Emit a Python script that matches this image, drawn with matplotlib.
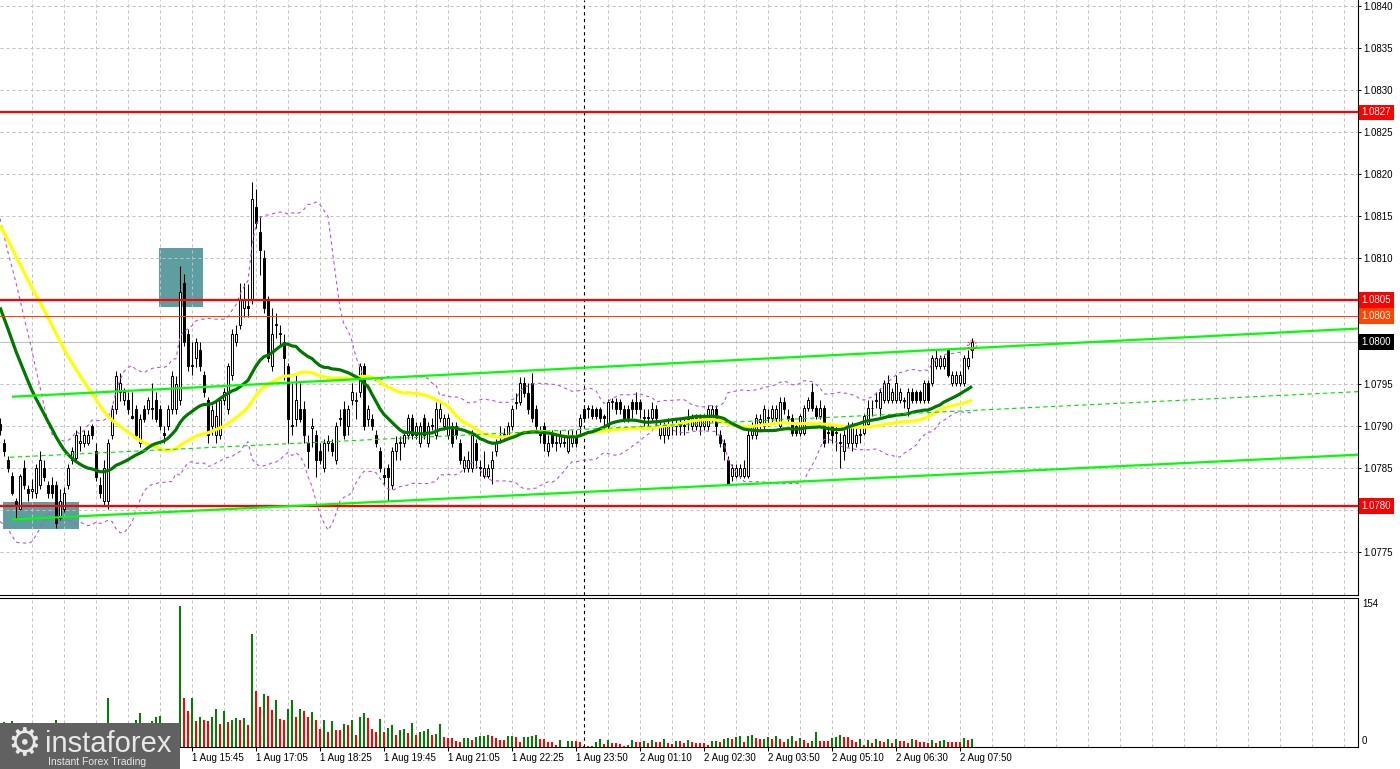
import numpy as np
import pandas as pd
import matplotlib
matplotlib.use("Agg")
import matplotlib.pyplot as plt
from matplotlib.patches import Rectangle, Ellipse
from matplotlib.transforms import blended_transform_factory

# ---------------- data (prices in pips above 1.0770, 5-minute bars) ----------------
BASE = 1.0770
PIP = 0.0001

open_pips = [
    20.3, 18.0, 16.0, 14.1, 11.1, 10.1, 15.0, 12.5, 12.3, 12.0,
    13.0, 15.0, 13.0, 13.0, 13.0, 9.1, 10.1, 13.0, 16.0, 16.2,
    18.0, 18.0, 18.0, 20.0, 17.0, 13.0, 11.1, 11.1, 19.0, 22.0,
    24.0, 23.1, 23.1, 21.2, 22.0, 18.0, 22.0, 22.0, 22.2, 23.1,
    22.0, 19.2, 20.0, 22.0, 22.0, 23.1, 37.0, 31.0, 27.3, 28.1,
    29.1, 26.1, 23.1, 20.0, 19.0, 19.0, 23.1, 22.0, 26.1, 30.0,
    32.0, 34.0, 34.3, 35.0, 46.1, 43.1, 40.0, 35.0, 27.1, 32.0,
    31.0, 30.0, 27.1, 20.1, 20.9, 22.0, 22.0, 18.0, 19.8, 19.0,
    17.0, 15.0, 18.0, 18.0, 16.0, 20.9, 22.0, 20.0, 23.1, 23.0,
    24.0, 27.1, 20.9, 20.9, 19.0, 17.0, 14.2, 15.0, 13.0, 17.0,
    18.0, 18.0, 19.0, 21.0, 19.0, 18.0, 21.0, 18.0, 20.0, 19.0,
    21.0, 20.0, 19.0, 20.0, 20.0, 18.0, 15.0, 15.0, 15.0, 18.0,
    15.1, 14.1, 14.1, 15.0, 17.0, 18.9, 19.0, 19.0, 20.0, 22.8,
    22.9, 25.1, 23.9, 25.1, 22.0, 19.1, 20.0, 17.0, 19.0, 18.0,
    18.0, 18.1, 17.0, 18.0, 19.0, 20.0, 22.0, 22.0, 22.0, 22.0,
    22.0, 21.2, 20.0, 22.9, 22.9, 22.9, 22.0, 22.0, 22.9, 22.9,
    22.9, 21.0, 21.1, 21.0, 22.0, 19.0, 19.0, 19.0, 20.0, 20.1,
    20.0, 20.1, 20.9, 20.0, 20.0, 20.0, 20.0, 20.0, 21.0, 22.0,
    19.0, 18.0, 16.0, 14.1, 14.1, 14.1, 14.1, 14.1, 19.0, 19.0,
    20.5, 20.0, 21.0, 21.0, 21.0, 20.0, 22.9, 21.2, 21.0, 20.0,
    19.2, 19.2, 22.2, 24.1, 22.2, 21.2, 22.2, 19.3, 20.0, 19.2,
    18.1, 17.0, 18.0, 18.0, 18.0, 19.0, 19.2, 20.2, 22.1, 23.0,
    22.2, 23.1, 23.1, 23.1, 23.1, 23.1, 23.0, 22.2, 24.1, 24.1,
    24.1, 23.1, 25.1, 25.1, 27.1, 27.1, 27.1, 29.1, 25.1, 25.1,
    25.1, 25.1, 27.1, 29.1,
]
close_pips = [
    19.5, 17.0, 15.0, 12.1, 10.8, 14.1, 13.0, 12.1, 12.5, 15.0,
    16.0, 14.0, 12.1, 12.1, 8.5, 11.1, 12.1, 15.0, 17.0, 19.0,
    18.2, 19.0, 19.0, 19.0, 14.0, 12.1, 15.0, 18.0, 22.0, 26.0,
    25.1, 24.0, 22.0, 21.0, 19.0, 20.9, 20.9, 23.1, 22.0, 20.9,
    20.0, 19.0, 22.0, 26.0, 25.0, 36.0, 30.0, 27.1, 27.1, 30.0,
    27.1, 24.1, 19.0, 21.9, 21.2, 23.1, 24.0, 27.1, 31.0, 31.0,
    35.0, 35.0, 34.0, 47.0, 44.1, 41.0, 34.1, 28.1, 31.0, 32.1,
    31.1, 28.1, 20.9, 20.0, 23.1, 20.9, 19.0, 17.0, 20.0, 16.0,
    16.0, 18.0, 18.2, 17.0, 20.0, 21.0, 19.0, 22.0, 24.0, 23.1,
    27.1, 20.0, 22.0, 20.0, 18.0, 15.0, 14.0, 14.0, 17.0, 18.0,
    18.1, 19.0, 21.0, 19.0, 20.0, 20.0, 19.0, 20.0, 20.1, 22.0,
    22.0, 21.0, 21.0, 18.0, 19.0, 16.0, 16.0, 16.0, 19.0, 16.0,
    15.0, 15.0, 15.0, 16.0, 18.0, 19.0, 19.1, 20.0, 22.0, 22.9,
    25.1, 23.9, 22.0, 21.0, 20.0, 19.0, 18.0, 18.0, 18.0, 18.1,
    19.0, 18.0, 19.0, 19.0, 18.0, 21.0, 21.0, 22.1, 21.2, 21.2,
    21.0, 21.0, 22.9, 23.0, 22.0, 22.0, 21.0, 21.0, 22.0, 22.0,
    22.0, 21.1, 21.0, 22.0, 21.0, 20.0, 20.0, 20.0, 20.1, 20.0,
    20.1, 20.0, 21.0, 21.0, 21.0, 21.0, 21.0, 22.0, 22.0, 20.0,
    18.0, 17.0, 13.1, 15.0, 15.0, 15.0, 15.0, 19.0, 20.0, 21.0,
    20.8, 22.0, 21.1, 22.0, 22.0, 22.9, 22.0, 21.0, 19.2, 19.2,
    21.2, 22.2, 23.1, 22.2, 21.2, 22.2, 18.0, 19.2, 19.0, 19.3,
    18.0, 19.0, 20.0, 20.0, 19.0, 19.1, 21.2, 22.2, 22.2, 23.1,
    24.1, 25.1, 25.1, 24.1, 25.1, 24.1, 23.1, 24.1, 23.1, 23.1,
    23.1, 25.1, 23.1, 28.1, 28.1, 28.1, 28.1, 26.1, 26.1, 26.1,
    26.1, 28.1, 28.1, 30.0,
]
high_pips = [
    21.0, 18.5, 16.5, 14.5, 11.5, 14.3, 16.0, 13.0, 13.7, 15.5,
    17.0, 16.0, 13.5, 14.0, 13.5, 12.5, 12.8, 15.5, 17.5, 19.5,
    20.0, 19.5, 19.5, 20.3, 18.0, 14.0, 16.0, 18.5, 22.5, 26.5,
    26.3, 24.5, 24.0, 24.0, 22.5, 21.5, 22.5, 23.5, 25.1, 24.0,
    22.5, 20.0, 22.5, 26.5, 26.0, 39.1, 38.1, 31.5, 30.0, 30.5,
    30.0, 26.5, 23.5, 22.5, 23.0, 23.5, 24.5, 27.5, 31.5, 32.0,
    37.0, 37.0, 36.9, 49.0, 48.2, 45.0, 41.0, 35.5, 34.0, 33.5,
    32.0, 31.0, 27.5, 25.1, 26.1, 25.1, 23.0, 19.0, 21.0, 19.5,
    18.0, 18.5, 19.0, 18.5, 20.5, 22.0, 23.0, 22.5, 25.1, 24.0,
    27.5, 27.5, 22.5, 21.5, 19.5, 17.5, 15.0, 15.5, 17.5, 18.8,
    18.8, 19.5, 21.5, 21.5, 20.5, 20.5, 21.5, 20.5, 21.0, 22.9,
    22.9, 21.5, 21.5, 20.5, 20.5, 18.5, 16.5, 17.0, 19.5, 18.5,
    16.0, 17.0, 15.5, 17.0, 18.5, 20.0, 19.8, 20.5, 22.5, 23.9,
    25.8, 25.8, 25.1, 26.3, 22.5, 20.0, 20.5, 19.0, 19.5, 19.0,
    19.5, 18.8, 19.5, 19.5, 19.5, 21.5, 22.5, 22.5, 22.5, 22.3,
    22.3, 21.5, 23.2, 23.3, 23.3, 23.2, 22.5, 22.5, 23.2, 24.1,
    23.2, 22.0, 22.0, 22.9, 22.5, 20.5, 20.5, 21.0, 21.0, 21.0,
    21.0, 21.0, 22.0, 21.5, 21.5, 21.5, 21.5, 22.5, 22.5, 22.5,
    19.5, 18.5, 16.5, 15.5, 15.5, 15.5, 16.0, 19.5, 20.5, 21.5,
    21.5, 22.5, 22.0, 22.5, 22.5, 23.5, 23.5, 22.0, 21.5, 20.5,
    21.5, 22.5, 23.5, 25.1, 22.5, 23.1, 22.5, 20.0, 20.3, 20.0,
    19.2, 19.5, 20.5, 20.5, 20.0, 20.0, 21.5, 23.1, 23.1, 24.1,
    24.5, 25.5, 26.1, 24.5, 26.1, 24.5, 23.5, 24.5, 24.5, 24.3,
    24.3, 25.5, 25.5, 28.5, 29.1, 28.5, 28.5, 29.1, 26.5, 26.5,
    26.5, 28.5, 29.1, 30.5,
]
low_pips = [
    19.0, 16.5, 14.5, 11.8, 8.9, 10.0, 12.5, 11.1, 11.5, 11.5,
    12.5, 13.5, 11.5, 11.5, 7.9, 8.8, 9.8, 12.5, 15.5, 16.0,
    17.0, 17.5, 17.8, 18.5, 13.5, 11.5, 10.5, 10.2, 18.5, 21.5,
    23.0, 22.5, 21.5, 20.8, 18.5, 17.5, 20.5, 21.5, 20.9, 20.5,
    19.5, 18.0, 19.5, 21.5, 21.5, 22.5, 29.5, 26.5, 26.1, 27.0,
    26.5, 23.5, 18.0, 19.0, 18.0, 18.5, 22.5, 21.5, 25.5, 29.5,
    31.5, 33.0, 33.0, 34.5, 43.5, 38.0, 33.5, 27.6, 26.5, 30.5,
    29.5, 25.5, 18.0, 19.0, 20.0, 20.5, 18.0, 15.0, 17.5, 14.0,
    15.5, 14.5, 17.0, 16.5, 15.5, 20.0, 18.5, 19.0, 22.5, 20.9,
    23.5, 19.5, 20.0, 19.5, 17.5, 14.5, 13.0, 11.1, 12.5, 16.0,
    16.0, 17.5, 18.5, 18.5, 18.5, 17.5, 18.5, 17.5, 19.5, 18.5,
    20.5, 19.5, 18.5, 17.5, 18.5, 15.5, 14.5, 14.5, 14.5, 15.0,
    14.1, 13.8, 13.8, 13.1, 16.5, 18.0, 18.5, 18.5, 19.5, 22.0,
    22.5, 23.5, 21.5, 20.5, 19.5, 18.0, 17.0, 16.5, 17.5, 17.0,
    17.5, 17.5, 16.8, 17.5, 17.5, 19.0, 20.5, 21.0, 20.8, 20.8,
    20.5, 19.5, 19.5, 22.0, 21.5, 21.5, 20.5, 20.5, 21.0, 21.5,
    21.0, 20.0, 20.0, 20.5, 20.0, 18.5, 18.0, 18.5, 19.0, 19.0,
    19.0, 19.0, 19.5, 19.5, 19.5, 19.0, 19.5, 19.5, 20.5, 19.0,
    17.5, 16.0, 13.0, 13.5, 13.8, 13.8, 13.8, 13.8, 18.5, 18.5,
    19.5, 19.5, 20.0, 20.5, 20.5, 19.5, 21.5, 20.5, 18.8, 18.8,
    18.8, 19.0, 21.8, 21.8, 20.8, 20.8, 17.5, 18.0, 18.0, 17.0,
    15.0, 16.0, 17.5, 17.0, 17.5, 18.0, 19.0, 20.0, 21.2, 22.2,
    21.2, 22.8, 22.8, 22.8, 22.8, 22.8, 22.2, 21.2, 22.8, 22.8,
    22.8, 22.8, 22.8, 24.8, 26.8, 26.8, 26.8, 25.8, 24.8, 24.8,
    24.8, 24.8, 26.8, 28.1,
]
volume = [
    20, 27, 18, 28, 26, 22, 20, 15, 18, 21,
    24, 17, 14, 19, 30, 22, 18, 20, 15, 21,
    17, 16, 19, 14, 22, 24, 20, 53, 25, 24,
    18, 16, 20, 22, 30, 37, 24, 20, 28, 33,
    33.5, 22, 18, 21, 24, 154, 54, 39, 53, 28,
    33, 29, 28, 33, 42, 25, 39, 27, 29, 32,
    29, 32, 24, 123, 61, 44, 58, 56, 40, 51,
    31, 29, 42, 51, 33, 41, 39, 33, 38, 30,
    20, 29, 16, 28, 19, 19, 25, 24, 30, 13,
    33, 37, 32, 20, 16, 31, 16, 21, 24, 13,
    19, 20, 15, 26, 13, 16, 17, 20, 13, 14,
    25, 11, 9.5, 9.5, 7, 6, 9.5, 9.8, 8, 11,
    11.5, 12, 13, 12, 9.5, 8,
    7.8, 11.7, 12.0, 10.6, 5.1, 10.6, 10.9, 11.7, 12.8, 8.4,
    8.4, 5.1, 5.1, 1.8, 7.3, 0.5, 6.2, 6.4, 6.2, 5.1,
    0.7, 0.7, 1.0, 5.1, 8.4, 2.9, 7.3, 4.0, 4.0, 2.9,
    0.7, 1.8, 7.3, 5.1, 5.1, 6.2, 4.0, 7.3, 5.1, 5.1,
    8.4, 4.0, 2.9, 6.2, 6.2, 4.0, 7.3, 5.1, 4.0, 4.0,
    4.0, 1.8, 6.2, 6.4, 5.1, 8.4, 9.5, 8.4, 10.6, 11.7,
    5.1, 11.7, 12.8, 9.5, 8.4, 8.7, 10.6, 8.4, 11.7, 8.4,
    5.1, 8.4, 11.7, 6.2, 9.5, 7.3, 4.0, 6.2, 16.0, 6.2,
    6.2, 6.2, 9.5, 10.6, 12.8, 10.6, 10.6, 7.3, 5.1, 8.4,
    1.8, 7.3, 4.0, 8.4, 6.2, 5.1, 8.4, 4.0, 8.4, 6.2,
    6.2, 4.0, 8.4, 7.3, 5.1, 5.1, 4.0, 7.3, 4.0, 6.2,
    7.3, 5.1, 5.1, 5.1, 5.1, 9.5, 7.3, 8.4,
]
# closes of the bars just before the visible window (only feed the indicators)
prior_close_pips = [
    59, 60, 60, 61, 60, 59, 60, 59, 58, 59, 58, 59, 58, 57, 58, 57, 58, 57, 56, 57,
    55, 54, 52, 51, 50, 48, 47, 46, 44, 43, 41, 40, 38, 37, 35, 34, 32, 31, 30, 28,
    27, 25, 22, 19, 17, 15, 14, 15, 14,
]

time_labels = ["1 Aug 15:45", "1 Aug 17:05", "1 Aug 18:25", "1 Aug 19:45", "1 Aug 21:05",
               "1 Aug 22:25", "1 Aug 23:50", "2 Aug 01:10", "2 Aug 02:30", "2 Aug 03:50",
               "2 Aug 05:10", "2 Aug 06:30", "2 Aug 07:50"]
time_label_bars = [48, 64, 80, 96, 112, 128, 144, 160, 176, 192, 208, 224, 240]
day_break_bar = 146

price_ticks = [1.0775, 1.0780, 1.0785, 1.0790, 1.0795, 1.0800, 1.0805,
               1.0810, 1.0815, 1.0820, 1.0825, 1.0830, 1.0835, 1.0840]
red_levels = [1.08273, 1.0805, 1.07805]
red_level_labels = ["1.0827", "1.0805", "1.0780"]
orange_level, orange_label = 1.08031, "1.0803"
bid_level, bid_label = 1.0800, "1.0800"

# channel trend lines: (start bar, start pips, end bar, end pips)
channel_upper = (3, 23.5, 339.5, 31.6)
channel_lower = (3, 8.9, 339.5, 16.6)
channel_mid = (2.5, 16.3, 339.5, 24.1)
# signal boxes: (left bar, right bar, low pips, high pips)
boxes = [(39.75, 50.75, 34.2, 41.2), (0.75, 19.75, 7.8, 11.0)]
vol_scale_label = 154

# ---------------- derived ----------------
def to_price(p):
    return BASE + np.asarray(p, dtype=float) * PIP

n = len(close_pips)
idx = np.arange(n)
o, c, h, l = (to_price(a) for a in (open_pips, close_pips, high_pips, low_pips))
full = pd.Series(np.r_[prior_close_pips, close_pips].astype(float))
k0 = len(prior_close_pips)
ma30 = to_price(full.rolling(30).mean().values[k0:])
ma50 = to_price(full.rolling(50).mean().values[k0:])
mid = full.rolling(20).mean()
sd = full.rolling(20).std(ddof=0)
bb_up = to_price((mid + 2 * sd).values[k0:])
bb_dn = to_price((mid - 2 * sd).values[k0:])

vol = np.asarray(volume, dtype=float)
vcol = ["#008000"] + ["#008000" if vol[i] > vol[i - 1] else "#ff0000" for i in range(1, n)]

# ---------------- figure ----------------
W, H = 1400.0, 769.0
plt.rcParams["font.family"] = ["Liberation Sans", "DejaVu Sans"]
fig = plt.figure(figsize=(W / 100, H / 100), dpi=100)
fig.patch.set_facecolor("white")
ax = fig.add_axes([0, (H - 595) / H, 1358 / W, 595 / H])
axv = fig.add_axes([0, (H - 747) / H, 1358 / W, (747 - 598) / H])

XMAX = 339.5
ax.set_xlim(0, XMAX)
ax.set_ylim(1.076992, 1.084067)
axv.set_xlim(0, XMAX)
axv.set_ylim(0, 162.8)

grid_kw = dict(color="#c0c0c0", lw=0.72, ls=(0, (3, 3)), zorder=0.5)
for xb in range(8, int(XMAX), 8):
    ax.axvline(xb, **grid_kw)
    axv.axvline(xb, **grid_kw)
for pt in price_ticks:
    ax.axhline(pt, **grid_kw)

for (b0, b1, p0, p1) in boxes:
    ax.add_patch(Rectangle((b0, to_price(p0)), b1 - b0, (p1 - p0) * PIP,
                           facecolor="#5f9ea0", edgecolor="none", zorder=0.3))

ax.axhline(bid_level, color="#c0c0c0", lw=0.8, zorder=1)
ax.axhline(orange_level, color="#ff4500", lw=0.75, zorder=8)
for lv in red_levels:
    ax.axhline(lv, color="#ff0000", lw=1.6, zorder=8)

# candles
body_low = np.minimum(o, c)
body_h = np.maximum(np.abs(c - o), 0.02 * PIP)
face = np.where(c > o, "white", "black")
ax.vlines(idx, l, h, colors="black", lw=0.75, zorder=5)
ax.bar(idx, body_h, bottom=body_low, width=0.55, color=list(face),
       edgecolor="black", linewidth=0.7, zorder=6)

# indicators
ax.plot(idx, bb_up, color="#b455d8", lw=0.8, ls=(0, (3, 3)), zorder=6.5)
ax.plot(idx, bb_dn, color="#b455d8", lw=0.8, ls=(0, (3, 3)), zorder=6.5)
ax.plot(idx, ma50, color="#ffff00", lw=2.3, zorder=7, solid_capstyle="butt")
ax.plot(idx, ma30, color="#007800", lw=2.3, zorder=7.1, solid_capstyle="butt")

for (b0, p0, b1, p1) in (channel_upper, channel_lower):
    ax.plot([b0, b1], to_price([p0, p1]), color="#00ff00", lw=1.6,
            zorder=8, solid_capstyle="butt")
b0, p0, b1, p1 = channel_mid
ax.plot([b0, b1], to_price([p0, p1]), color="#00e000", lw=0.8, ls=(0, (4, 3)), zorder=8)

ax.add_patch(Ellipse((n - 1, to_price(close_pips[-1] - 0.4)), 2.2, 1.1 * PIP,
                     fill=False, edgecolor="#ff2020", lw=0.8, ls=":", zorder=9))

for a in (ax, axv):
    a.axvline(day_break_bar, color="black", lw=0.8, ls=(0, (3, 3)), zorder=4)

# volumes
axv.bar(idx, vol, width=0.7, color=vcol, zorder=2)

# axes styling
for a in (ax, axv):
    a.set_facecolor("white")
    a.spines["left"].set_visible(False)
    for s in ("right", "bottom", "top"):
        a.spines[s].set_color("black")
        a.spines[s].set_linewidth(0.8)
ax.spines["top"].set_visible(False)

# tick labels hidden behind the price tags are left blank
covered = {"1.0805", "1.0800"}
ax.yaxis.tick_right()
ax.set_yticks(price_ticks)
ax.set_yticklabels(["" if f"{t:.4f}" in covered else f"{t:.4f}" for t in price_ticks])
ax.tick_params(axis="y", length=2.5, width=0.7, labelsize=7, pad=1.2, colors="black")
ax.set_xticks([])

axv.set_yticks([])
axv.set_xticks(time_label_bars)
axv.set_xticklabels(time_labels, ha="left", fontsize=7)
axv.tick_params(axis="x", length=3, width=0.7, pad=1.5)

fig.text(1362 / W, 1 - 604 / H, str(vol_scale_label), fontsize=7, va="center", ha="left")
fig.text(1362 / W, 1 - 741 / H, "0", fontsize=7, va="center", ha="left")

# price labels on the right axis
tr = blended_transform_factory(ax.transAxes, ax.transData)
xlab = 1.0 + 3.6 / 1358
for lv, lab in zip(red_levels, red_level_labels):
    ax.text(xlab, lv, lab, transform=tr, fontsize=7, color="white", va="center", ha="left",
            zorder=20, clip_on=False,
            bbox=dict(boxstyle="square,pad=0.3", fc="#ff0000", ec="none"))
ax.text(xlab, orange_level, orange_label, transform=tr, fontsize=7, color="white",
        va="center", ha="left", zorder=20, clip_on=False,
        bbox=dict(boxstyle="square,pad=0.3", fc="#ff4500", ec="none"))
ax.text(xlab, bid_level, bid_label, transform=tr, fontsize=7, color="white",
        va="center", ha="left", zorder=20, clip_on=False,
        bbox=dict(boxstyle="square,pad=0.3", fc="black", ec="none"))

# watermark logo
fig.patches.append(Rectangle((0, 0), 180 / W, 46 / H, transform=fig.transFigure,
                             facecolor="#616161", edgecolor="none", zorder=10))
fig.text(24 / W, 1 - 745 / H, "\u2699", fontsize=27, color="#e8e8e8", ha="center",
         va="center", family="DejaVu Sans", zorder=11)
fig.text(45 / W, 1 - 752 / H, "instaforex", fontsize=21, color="#e8e8e8", ha="left",
         va="baseline", zorder=11)
fig.text(48 / W, 1 - 765 / H, "Instant Forex Trading", fontsize=7.5, color="#e8e8e8",
         ha="left", va="baseline", zorder=11)

fig.savefig("out.png", dpi=100, facecolor="white")
